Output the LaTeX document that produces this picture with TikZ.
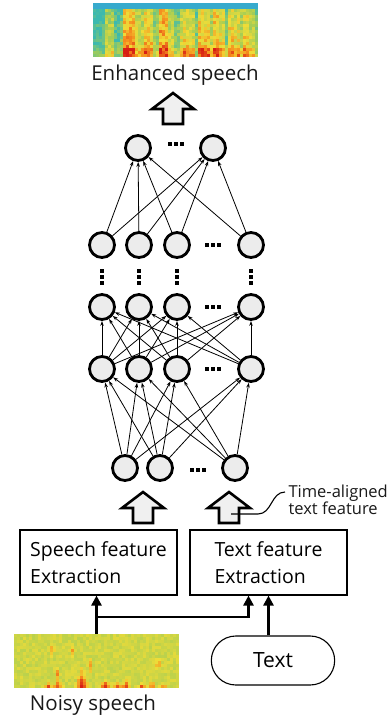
\documentclass[tikz,border=0pt]{standalone}
\usepackage{fontspec}
\setmainfont{Open Sans}
\usetikzlibrary{arrows.meta, positioning, shapes.misc}

\definecolor{spblue}{RGB}{55,170,205}
\definecolor{spteal}{RGB}{60,185,175}
\definecolor{spgreen}{RGB}{165,205,85}
\definecolor{spyellow}{RGB}{240,220,55}
\definecolor{sporange}{RGB}{245,140,30}
\definecolor{spred}{RGB}{215,30,20}

% sets colour 'heat' from a value in [0,1]
\newcommand{\setheat}[1]{%
  \pgfmathsetmacro{\hv}{min(max(#1,0),0.999)}%
  \ifdim\hv pt<0.35pt
    \pgfmathtruncatemacro{\hp}{\hv/0.35*100}\colorlet{heat}{spgreen!\hp!spteal}%
  \else\ifdim\hv pt<0.6pt
    \pgfmathtruncatemacro{\hp}{(\hv-0.35)/0.25*100}\colorlet{heat}{spyellow!\hp!spgreen}%
  \else\ifdim\hv pt<0.8pt
    \pgfmathtruncatemacro{\hp}{(\hv-0.6)/0.2*100}\colorlet{heat}{sporange!\hp!spyellow}%
  \else
    \pgfmathtruncatemacro{\hp}{(\hv-0.8)/0.2*100}\colorlet{heat}{spred!\hp!sporange}%
  \fi\fi\fi}

\begin{document}
\begin{tikzpicture}[x=1pt, y=-1pt,
    neuron/.style = {circle, draw, line width=2.8pt, fill=gray!15, minimum size=25pt, inner sep=0pt},
    link/.style = {-{Stealth[length=5pt, width=3.5pt]}, line width=0.8pt},
    extractbox/.style = {rectangle, draw, line width=1.1pt, minimum width=157pt, minimum height=65pt,
                         align=left, inner sep=0pt, font=\fontsize{19.5}{27}\selectfont},
    flow/.style = {line width=2.6pt, -{Triangle[length=10pt, width=10pt]}},
    spec/.style = {rectangle, minimum width=165pt, minimum height=54pt, inner sep=0pt, outer sep=0pt},
    caption/.style = {font=\fontsize{20.5}{24}\selectfont, text=black!90},
    bigarrow/.pic = {\draw[line width=2.6pt, fill=gray!12] (0,0) -- (21,16) -- (10,16) -- (10,31)
                     -- (-10,31) -- (-10,16) -- (-21,16) -- cycle;},
    hdots/.pic = {\foreach \d in {-6,0,6} \fill (\d-1.6,-1.6) rectangle (\d+1.6,1.6);},
    vdots/.pic = {\foreach \d in {-6,0,6} \fill (-1.6,\d-1.6) rectangle (1.6,\d+1.6);},
    declare function = {cone(\px,\ph,\pc,\pa,\pw,\pk) = \pa*max(0, 1-abs(\px-\pc)/\pw-\ph/\pk);
                        streak(\px,\ph,\pc,\pm,\pa) = \pa*max(0, 1-abs(\px-\pc)/3.5-abs(\ph-\pm)/10);},
  ]
  \useasboundingbox (0,0) rectangle (390,720);
  \pgfmathsetseed{11}

  % Enhanced speech spectrogram
  \node[spec] (enh) at (175.5,30) {};
  \def\enhcols{{0.15,0.2,0.5,0.5,0.2,0.3,0.8,0.78,0.6,0.55,0.72,0.68,0.4,0.8,0.76,0.55,0.35,
                0.62,0.66,0.6,0.3,0.72,0.68,0.5,0.76,0.62,0.3,0.68,0.62,0.5,0.66,0.55,0.35}}
  \fill[spblue] (93,3) rectangle (258,9);
  \foreach \col in {0,...,54}{
    \foreach \row in {0,...,15}{
      \pgfmathsetmacro{\ce}{\enhcols[int(\col*3/5)]}
      \pgfmathsetmacro{\ev}{\ce+0.3*(rnd-0.5)+(\row<3)*0.25*\ce-0.01*\row}
      \setheat{\ev}
      \fill[heat] (93+3*\col,57-3*\row) rectangle ++(3.2,-3.2);
    }
  }
  \node[caption] (enhlabel) at (175,75) {Enhanced speech};

  % Output layer
  \pic at (173,93) {bigarrow};
  \node[neuron] (y1) at (138,148) {};
  \node[neuron] (y2) at (213,148) {};
  \pic at (176,144) {hdots};

  % Hidden layers
  \foreach \x [count=\i] in {102,139,177,251}{
    \node[neuron] (a\i) at (\x,245) {};
    \node[neuron] (b\i) at (\x,307) {};
    \node[neuron] (c\i) at (\x,369) {};
    \pic at (\x,277) {vdots};
  }
  \foreach \y in {245,307,369} \pic at (213,\y) {hdots};

  % Input layer
  \node[neuron] (x1) at (125,468) {};
  \node[neuron] (x2) at (160,468) {};
  \node[neuron] (x3) at (235,468) {};
  \pic at (198,470) {hdots};

  % Weights
  \foreach \i in {1,...,3} \foreach \j in {1,...,4} \draw[link] (x\i) -- (c\j);
  \foreach \i in {1,...,4} \foreach \j in {1,...,4} \draw[link] (c\i) -- (b\j);
  \foreach \i in {1,...,4} \foreach \j in {1,2} \draw[link] (a\i) -- (y\j);

  % Features into the input layer
  \pic at (143,492) {bigarrow};
  \pic at (229,492) {bigarrow};
  \coordinate (taf) at (231,514);
  \node[anchor=west, align=left, font=\fontsize{16.5}{17}\selectfont, text=black!90] (tal) at (285,500)
    {Time-aligned\\text feature};
  \draw[line width=1.1pt] (taf) -- ++(27,0) .. controls +(14,0) and +(-14,0) .. ([yshift=8pt]tal.west);

  % Feature extraction
  \node[extractbox] (sfe) at (98.5,562.5) {Speech feature\\Extraction};
  \node[extractbox] (tfe) at (268.5,562.5) {Text feature\\Extraction};

  % Noisy speech spectrogram
  \node[spec] (noisy) at (96.5,661) {};
  \foreach \col in {0,...,54}{
    \foreach \row in {0,...,17}{
      \pgfmathsetmacro{\px}{15.5+3*\col}
      \pgfmathsetmacro{\ph}{3*\row+1.5}
      \pgfmathsetmacro{\ev}{0.49+0.14*(rnd-0.5)
        +cone(\px,\ph,48,0.55,6,8)+cone(\px,\ph,58,0.55,7,10)+cone(\px,\ph,82,0.65,9,24)
        +cone(\px,\ph,105,0.6,8,11)+cone(\px,\ph,118,0.55,6,9)+cone(\px,\ph,126,0.55,6,12)
        +cone(\px,\ph,142,0.5,6,8)+cone(\px,\ph,152,0.55,6,9)+cone(\px,\ph,163,0.45,6,7)
        +streak(\px,\ph,52,38,0.3)+streak(\px,\ph,72,38,0.3)+streak(\px,\ph,90,22,0.35)
        +streak(\px,\ph,58,14,0.35)+streak(\px,\ph,158,24,0.35)}
      \setheat{\ev}
      \fill[heat] (14+3*\col,688-3*\row) rectangle ++(3.2,-3.2);
    }
  }
  \node[caption] (noisylabel) at (93,705) {Noisy speech};

  % Text input
  \node[rounded rectangle, draw, line width=1.1pt, minimum width=130pt, minimum height=49pt,
        font=\fontsize{21}{24}\selectfont] (txt) at (273,660.5) {Text};

  % Inputs to the extractors
  \coordinate (split) at ([yshift=17pt]noisy.north);
  \draw[flow] (noisy.north) -- (noisy.north |- sfe.south);
  \draw[flow] (split) -| ([xshift=-20pt]tfe.south);
  \draw[flow] (txt.north -| tfe.south) -- (tfe.south);
\end{tikzpicture}
\end{document}
